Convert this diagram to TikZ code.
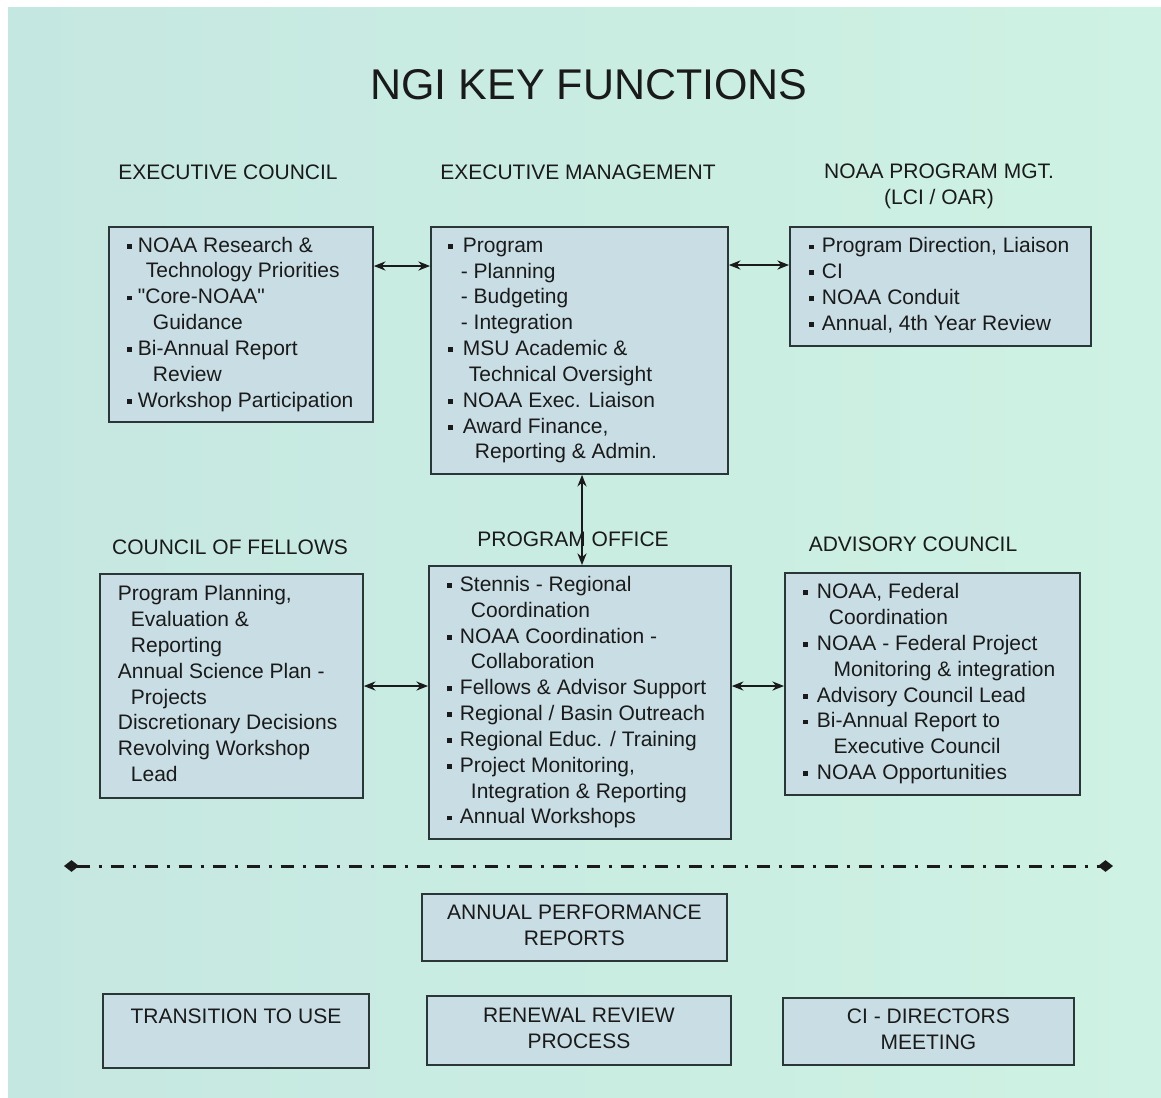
\documentclass[tikz,border=0pt]{standalone}
\usepackage{fontspec}
\setmainfont{Liberation Sans}[Ligatures=TeXOff]
\usetikzlibrary{arrows.meta,calc}
\definecolor{bgA}{HTML}{C5E7E1}
\definecolor{bgB}{HTML}{CEF2E3}
\definecolor{boxfill}{HTML}{C8DEE4}
\definecolor{boxline}{HTML}{2B3636}
\definecolor{ink}{HTML}{1A1A1A}
\newcommand\bodyfont{\fontsize{12.6}{15.5}\selectfont}
\newcommand\bx{\raisebox{0.16em}{\rule{0.23em}{0.23em}}}
\newcommand\bl[1][9pt]{\makebox[#1][l]{\bx}}
\newcommand\ind[1]{\hspace*{#1}}
\newcommand\boxtext[2]{\makebox[#1][l]{\begin{tabular}{@{}l@{}}#2\end{tabular}}}
\newcommand\ctext[1]{\begin{tabular}{@{}c@{}}#1\end{tabular}}
\begin{document}
\begin{tikzpicture}[x=0.6pt,y=-0.6pt,
  box/.style={draw=boxline, fill=boxfill, line width=1.1pt, anchor=north west,
    inner ysep=0pt, font=\bodyfont, text=ink},
  cbox/.style={box, inner xsep=0pt, align=center},
  head/.style={font=\bodyfont, text=ink, inner sep=0pt},
  conn/.style={{Stealth[length=7pt,width=5.5pt]}-{Stealth[length=7pt,width=5.5pt]}, line width=0.8pt, draw=ink},
  divider/.style={{Diamond[length=9pt,width=7pt]}-{Diamond[length=9pt,width=7pt]}, line width=1.8pt, draw=ink,
    dash pattern=on 7.8pt off 5.4pt on 1.8pt off 5.4pt}]
% background
\fill[white] (0,0) rectangle (1161,1097);
\shade[left color=bgA, right color=bgB] (8,7) rectangle (1161,1097);
\useasboundingbox (0,0) rectangle (1161,1097);

% title
\node[font=\fontsize{25.8}{30}\selectfont, text=ink, inner sep=0pt] (title) at (589,85) {NGI KEY FUNCTIONS};

% headers
\node[head] (hEC) at (228,172) {EXECUTIVE COUNCIL};
\node[head] (hEM) at (578,172) {EXECUTIVE MANAGEMENT};
\node[head, align=center] (hNO) at (939,186) {NOAA PROGRAM MGT.\\(LCI / OAR)};
\node[head] (hCF) at (230,547) {COUNCIL OF FELLOWS};
\node[head] (hPO) at (573,539) {PROGRAM OFFICE};
\node[head] (hAC) at (913,544) {ADVISORY COUNCIL};

% top row boxes
\node[box, inner xsep=10.8pt, minimum height=117pt] (EC) at (108,226) {\boxtext{136.8pt}{%
\bl[6.6pt]NOAA Research \&\\
\ind{11.4pt}Technology Priorities\\
\bl[6.6pt]"Core-NOAA"\\
\ind{15.6pt}Guidance\\
\bl[6.6pt]Bi-Annual Report\\
\ind{15.6pt}Review\\
\bl[6.6pt]Workshop Participation}};

\node[box, inner xsep=10.2pt, minimum height=148.2pt] (EM) at (430,226) {\boxtext{157.8pt}{%
\bl Program\\
\ind{7.8pt}- Planning\\
\ind{7.8pt}- Budgeting\\
\ind{7.8pt}- Integration\\
\bl MSU Academic \&\\
\ind{12.6pt}Technical Oversight\\
\bl NOAA Exec. Liaison\\
\bl Award Finance,\\
\ind{16.2pt}Reporting \& Admin.}};

\node[box, inner xsep=11.4pt, minimum height=71.4pt] (NO) at (789,226) {\boxtext{157.8pt}{%
\bl[7.8pt]Program Direction, Liaison\\
\bl[7.8pt]CI\\
\bl[7.8pt]NOAA Conduit\\
\bl[7.8pt]Annual, 4th Year Review}};

% middle row boxes
\node[box, inner xsep=10.8pt, minimum height=134.4pt] (CF) at (99,573) {\boxtext{136.2pt}{%
Program Planning,\\
\ind{7.8pt}Evaluation \&\\
\ind{7.8pt}Reporting\\
Annual Science Plan -\\
\ind{7.8pt}Projects\\
Discretionary Decisions\\
Revolving Workshop\\
\ind{7.8pt}Lead}};

\node[box, inner xsep=10.8pt, minimum height=163.8pt] (PO) at (428,565) {\boxtext{159.6pt}{%
\bl[7.8pt]Stennis - Regional\\
\ind{14.4pt}Coordination\\
\bl[7.8pt]NOAA Coordination -\\
\ind{14.4pt}Collaboration\\
\bl[7.8pt]Fellows \& Advisor Support\\
\bl[7.8pt]Regional / Basin Outreach\\
\bl[7.8pt]Regional Educ. / Training\\
\bl[7.8pt]Project Monitoring,\\
\ind{14.4pt}Integration \& Reporting\\
\bl[7.8pt]Annual Workshops}};

\node[box, inner xsep=10.8pt, minimum height=133.2pt] (AC) at (784,572) {\boxtext{155.4pt}{%
\bl[8.4pt]NOAA, Federal\\
\ind{15.6pt}Coordination\\
\bl[8.4pt]NOAA - Federal Project\\
\ind{18.4pt}Monitoring \& integration\\
\bl[8.4pt]Advisory Council Lead\\
\bl[8.4pt]Bi-Annual Report to\\
\ind{18.4pt}Executive Council\\
\bl[8.4pt]NOAA Opportunities}};

% bottom boxes
\node[cbox, minimum width=183pt, minimum height=40.2pt] (APR) at (421,893) {\ctext{ANNUAL PERFORMANCE\\REPORTS}};
\node[cbox, minimum width=159.6pt, minimum height=44.4pt] (TTU) at (102,993) {\ctext{TRANSITION TO USE\\\mbox{}}};
\node[cbox, minimum width=182.4pt, minimum height=41.4pt] (RRP) at (426,995) {\ctext{RENEWAL REVIEW\\PROCESS}};
\node[cbox, minimum width=174.6pt, minimum height=40.2pt] (CID) at (782,997) {\ctext{CI - DIRECTORS\\MEETING}};

% connectors
\draw[conn] ([yshift=-24pt]EC.north east) coordinate (a1) -- (a1 -| EM.west);
\draw[conn] ([yshift=-23.4pt]EM.north east) coordinate (a2) -- (a2 -| NO.west);
\draw[conn] ([xshift=91.2pt]EM.south west) coordinate (a3) -- (a3 |- PO.north);
\draw[conn] ([yshift=-67.8pt]CF.north east) coordinate (a4) -- (a4 -| PO.west);
\draw[conn] (PO.east |- a4) -- (AC.west |- a4);

% divider
\coordinate (dl) at (64,866);
\coordinate (dr) at (1113,866);
\draw[divider] (dl) -- (dr);
\end{tikzpicture}
\end{document}
